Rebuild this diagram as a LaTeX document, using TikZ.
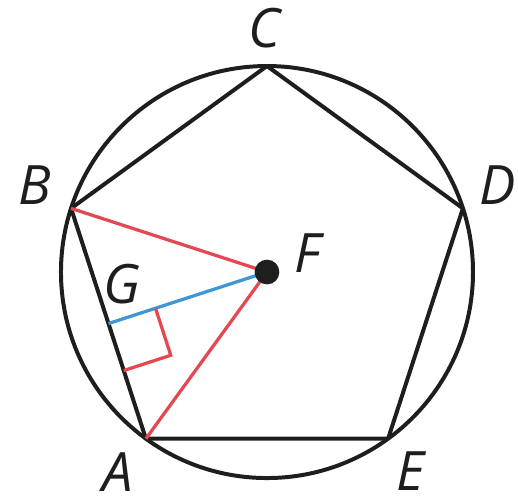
\documentclass[tikz,border=0pt]{standalone}
\usepackage{fontspec}
\setmainfont{Open Sans}
\usepackage{xcolor}
\usetikzlibrary{calc}
\definecolor{segRed}{RGB}{228,72,82}
\definecolor{segBlue}{RGB}{62,150,212}
\definecolor{lineInk}{RGB}{30,30,30}
\tikzset{
    edge/.style={line width=1.1pt,draw=lineInk,line join=round},
    radius/.style={line width=0.9pt,draw=segRed},
    apothem/.style={line width=0.9pt,draw=segBlue},
    vlabel/.style={font=\fontsize{15}{18}\selectfont\itshape,text=lineInk,inner sep=0pt}
}
\begin{document}
\begin{tikzpicture}
\useasboundingbox (-2.592,-2.184) rectangle (2.437,2.641);

% circle and pentagon
\coordinate (F) at (0,0);
\coordinate (C) at (90:2);
\coordinate (D) at (18:2);
\coordinate (E) at (-54:2);
\coordinate (A) at (234:2);
\coordinate (B) at (162:2);
\coordinate (G) at ($(A)!0.5!(B)$);

\draw[edge] (F) circle (2);
\draw[edge] (A)--(B)--(C)--(D)--(E)--cycle;

% radii, apothem and right angle
\draw[radius] (B)--(F)--(A);
\draw[apothem] (G)--(F);
\draw[radius] ($(G)!0.48cm!(F)$)
  --($(G)!0.48cm!(F)+(G)!0.48cm!(A)-(G)$)
  --($(G)!0.48cm!(A)$);

\fill[lineInk] (F) circle (0.12);

% labels
\node[vlabel](lC) at (-0.02,2.37) {C};
\node[vlabel](lB) at (-2.25,0.84) {B};
\node[vlabel](lD) at (2.24,0.84) {D};
\node[vlabel](lA) at (-1.45,-1.94) {A};
\node[vlabel](lE) at (1.39,-1.93) {E};
\node[vlabel](lF) at (0.39,0.18) {F};
\node[vlabel](lG) at (-1.41,-0.12) {G};

\end{tikzpicture}
\end{document}
